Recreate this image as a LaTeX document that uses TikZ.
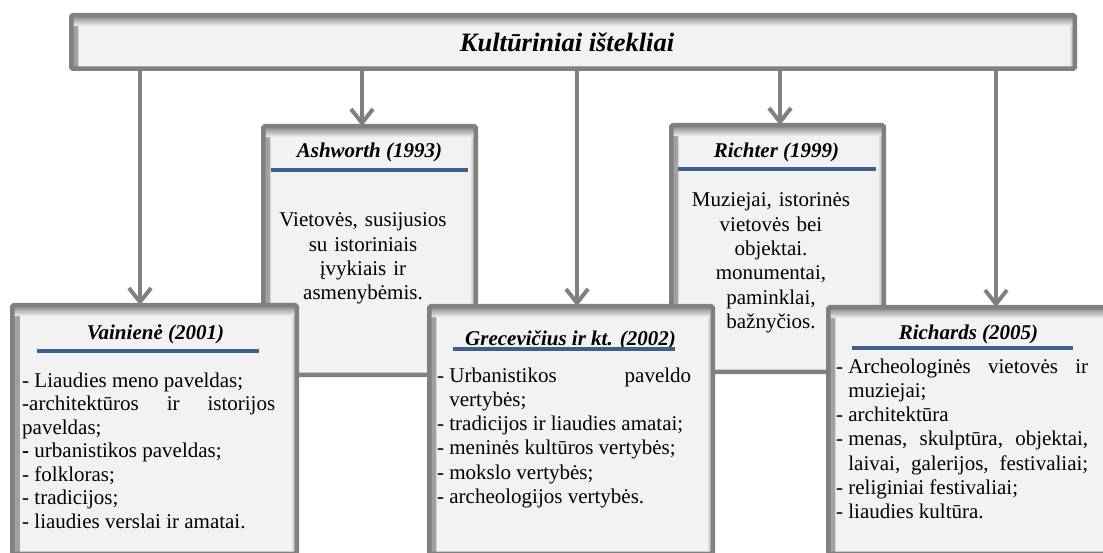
\documentclass[tikz,border=0pt]{standalone}
\usepackage{fontspec}
\setmainfont{Liberation Serif}
\usetikzlibrary{arrows.meta}
\definecolor{bgray}{RGB}{128,128,128}
\definecolor{bfill}{RGB}{242,242,242}
\definecolor{bblue}{RGB}{62,96,143}
\newcommand\hstart{\hangindent=12.2pt\hangafter=1\noindent\makebox[12.2pt][l]{-}}
\newcommand\hitem{\par\hstart}
\newcommand\bodyset{\parindent=0pt\hyphenpenalty=10000\exhyphenpenalty=10000\tolerance=9999\emergencystretch=20pt\relax}
\tikzset{
  boxst/.style={draw=bgray, line width=4.5pt, fill=bfill, rounded corners=1.5pt,
    inner sep=0pt, outer sep=0pt,
    path picture={
      \shade[left color=bgray!75, right color=bfill] (path picture bounding box.north west) rectangle ([xshift=7pt]path picture bounding box.south west);
      \shade[right color=bgray!75, left color=bfill] (path picture bounding box.north east) rectangle ([xshift=-6pt]path picture bounding box.south east);
      \shade[top color=bgray, bottom color=bfill] (path picture bounding box.north west) rectangle ([yshift=-11pt]path picture bounding box.north east);
    }},
  frame/.style={inner sep=0pt, outer sep=0pt},
  conn/.style={draw=bgray, line width=4pt, -{Straight Barb[length=14pt,width=22pt]}},
  blueline/.style={draw=bblue, line width=4.5pt},
  ttl/.style={font=\fontsize{21}{25}\selectfont\bfseries\itshape, inner sep=0pt, anchor=base},
  toptitle/.style={font=\fontsize{26.5}{30}\selectfont\bfseries\itshape, inner sep=0pt, anchor=base},
  body/.style={font=\fontsize{21}{24.3}\selectfont, inner sep=0pt},
}
\begin{document}
\begin{tikzpicture}[x=1pt,y=-1pt]
\useasboundingbox (0,0) rectangle (1103,553);
\clip (0,0) rectangle (1103,553);

% top box
\node[boxst, minimum width=1003.5pt, minimum height=53.5pt] (top) at (573,42) {};
\node[toptitle] (mainT) at (567,52) {Kultūriniai ištekliai};

% connector positions
\coordinate (x1) at (140,0);
\coordinate (x2) at (362,0);
\coordinate (x3) at (577,0);
\coordinate (x4) at (780,0);
\coordinate (x5) at (996,0);

% box frames (named first so arrows can reach them)
\node[frame, minimum width=212.5pt, minimum height=248.5pt] (ash) at (369.5,250.5) {};
\node[frame, minimum width=212.5pt, minimum height=246.5pt] (richt) at (777.5,248.5) {};
\node[frame, minimum width=284.5pt, minimum height=248.5pt] (vain) at (154.5,429.5) {};
\node[frame, minimum width=283.5pt, minimum height=247.5pt] (grec) at (571,430) {};
\node[frame, minimum width=281.5pt, minimum height=246.5pt] (rich) at (969,430.5) {};

% connectors
\draw[conn] (x1 |- top.south) -- (x1 |- vain.north);
\draw[conn] (x2 |- top.south) -- (x2 |- ash.north);
\draw[conn] (x3 |- top.south) -- (x3 |- grec.north);
\draw[conn] (x4 |- top.south) -- (x4 |- richt.north);
\draw[conn] (x5 |- top.south) -- (x5 |- rich.north);

% Ashworth
\node[boxst, minimum width=212.5pt, minimum height=248.5pt] (ashBox) at (ash) {};
\node[ttl] (ashT) at (369.5,158) {Ashworth (1993)};
\draw[blueline] (271,170) -- (468,170);
\node[body, text width=210pt, align=center, anchor=base] (ashB) at (363,227)
  {Vietovės, susijusios\\ su istoriniais\\ įvykiais ir\\ asmenybėmis.};

% Richter
\node[boxst, minimum width=212.5pt, minimum height=246.5pt] (richtBox) at (richt) {};
\node[ttl] (richtT) at (776.5,158) {Richter (1999)};
\draw[blueline] (678,169) -- (876,169);
\node[body, text width=210pt, align=center, anchor=base] (richtB) at (771,207)
  {Muziejai, istorinės\\ vietovės bei\\ objektai.\\ monumentai,\\ paminklai,\\ bažnyčios.};

% Vainiene
\node[boxst, minimum width=284.5pt, minimum height=248.5pt] (vainBox) at (vain) {};
\node[ttl] (vainT) at (155.5,339) {Vainienė (2001)};
\draw[blueline] (37,351) -- (259,351);
\node[body, font=\fontsize{21}{23.5}\selectfont, text width=253pt, align=justify, anchor=base west] (vainB) at (22,387)
  {\bodyset - Liaudies meno paveldas;\par
   -architektūros ir istorijos\linebreak paveldas;\par
   {\bfseries -} urbanistikos paveldas;\par
   - folkloras;\par
   - tradicijos;\par
   - liaudies verslai ir amatai.};

% Grecevicius
\node[boxst, minimum width=283.5pt, minimum height=247.5pt] (grecBox) at (grec) {};
\node[ttl] (grecT) at (570.5,345) {Grecevičius ir kt. (2002)};
\draw[blueline] (453,349) -- (675,349);
\node[body, text width=254pt, align=justify, anchor=base west] (grecB) at (437,382)
  {\bodyset\hstart Urbanistikos paveldo\linebreak vertybės;\hitem tradicijos ir liaudies amatai;\hitem meninės kultūros vertybės;\hitem mokslo vertybės;\hitem archeologijos vertybės.};

% Richards
\node[boxst, minimum width=281.5pt, minimum height=246.5pt] (richBox) at (rich) {};
\node[ttl] (richT) at (968.5,339) {Richards (2005)};
\draw[blueline] (852,348) -- (1073,348);
\node[body, text width=252pt, align=justify, anchor=base west] (richB) at (836,373)
  {\bodyset\hstart Archeologinės vietovės ir\linebreak muziejai;\hitem architektūra\hitem menas, skulptūra, objektai,\linebreak laivai, galerijos, festivaliai;{\parfillskip=0pt\par}\hitem religiniai festivaliai;\hitem liaudies kultūra.};
\end{tikzpicture}
\end{document}
